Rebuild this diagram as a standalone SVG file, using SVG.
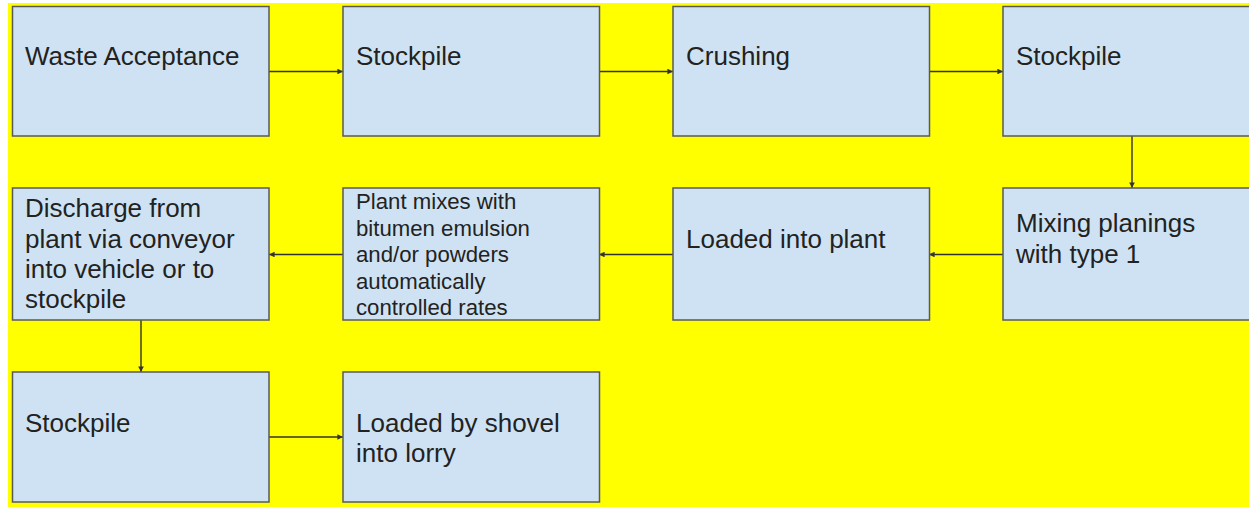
<svg xmlns="http://www.w3.org/2000/svg" width="1249" height="507" viewBox="0 0 1249 507">
<defs>
<style>
.box{fill:#cfe2f3;stroke:#595959;stroke-width:1.5}
.t{font-family:"Liberation Sans",Arial,sans-serif;font-size:26px;fill:#222}
.s{font-family:"Liberation Sans",Arial,sans-serif;font-size:22.2px;fill:#222}
.c{stroke:#333;stroke-width:1.4;fill:none;marker-end:url(#ah)}
</style>
<marker id="ah" viewBox="0 0 10 10" refX="10" refY="5" markerWidth="4" markerHeight="4" orient="auto" markerUnits="strokeWidth">
<path d="M0,0 L10,5 L0,10 z" fill="#333"/>
</marker>
</defs>
<rect x="0" y="0" width="1249" height="507" fill="#ffffff"/>
<rect x="8" y="3" width="1241" height="504" fill="#ffff00"/>
<g id="connectors">
<path class="c" d="M269,71.5 H343"/>
<path class="c" d="M599,71.5 H673"/>
<path class="c" d="M929,71.5 H1003"/>
<path class="c" d="M1132,136 V188"/>
<path class="c" d="M1003,254.5 H929"/>
<path class="c" d="M673,254.5 H599"/>
<path class="c" d="M343,254.5 H269"/>
<path class="c" d="M141,320 V372"/>
<path class="c" d="M269,437 H343"/>
</g>
<g id="n1"><rect class="box" x="12.5" y="6.5" width="256.5" height="129.5"/><text class="t" x="25" y="65">Waste Acceptance</text></g>
<g id="n2"><rect class="box" x="343" y="6.5" width="256.5" height="129.5"/><text class="t" x="356" y="65">Stockpile</text></g>
<g id="n3"><rect class="box" x="673" y="6.5" width="256.5" height="129.5"/><text class="t" x="686" y="65">Crushing</text></g>
<g id="n4"><rect class="box" x="1003" y="6.5" width="256.5" height="129.5"/><text class="t" x="1016" y="65">Stockpile</text></g>
<g id="n5"><rect class="box" x="1003" y="188" width="256.5" height="132"/><text class="t" x="1016" y="232">Mixing planings</text><text class="t" x="1016" y="263">with type 1</text></g>
<g id="n6"><rect class="box" x="673" y="188" width="256.5" height="132"/><text class="t" x="686" y="248">Loaded into plant</text></g>
<g id="n7"><rect class="box" x="343" y="188" width="256.5" height="132"/><text class="s" x="356" y="209">Plant mixes with</text><text class="s" x="356" y="235.5">bitumen emulsion</text><text class="s" x="356" y="262">and/or powders</text><text class="s" x="356" y="288.5">automatically</text><text class="s" x="356" y="315">controlled rates</text></g>
<g id="n8"><rect class="box" x="12.5" y="188" width="256.5" height="132"/><text class="t" x="25" y="217">Discharge from</text><text class="t" x="25" y="247.5">plant via conveyor</text><text class="t" x="25" y="278">into vehicle or to</text><text class="t" x="25" y="308">stockpile</text></g>
<g id="n9"><rect class="box" x="12.5" y="372" width="256.5" height="130"/><text class="t" x="25" y="432">Stockpile</text></g>
<g id="n10"><rect class="box" x="343" y="372" width="256.5" height="130"/><text class="t" x="356" y="432">Loaded by shovel</text><text class="t" x="356" y="462">into lorry</text></g>
</svg>
